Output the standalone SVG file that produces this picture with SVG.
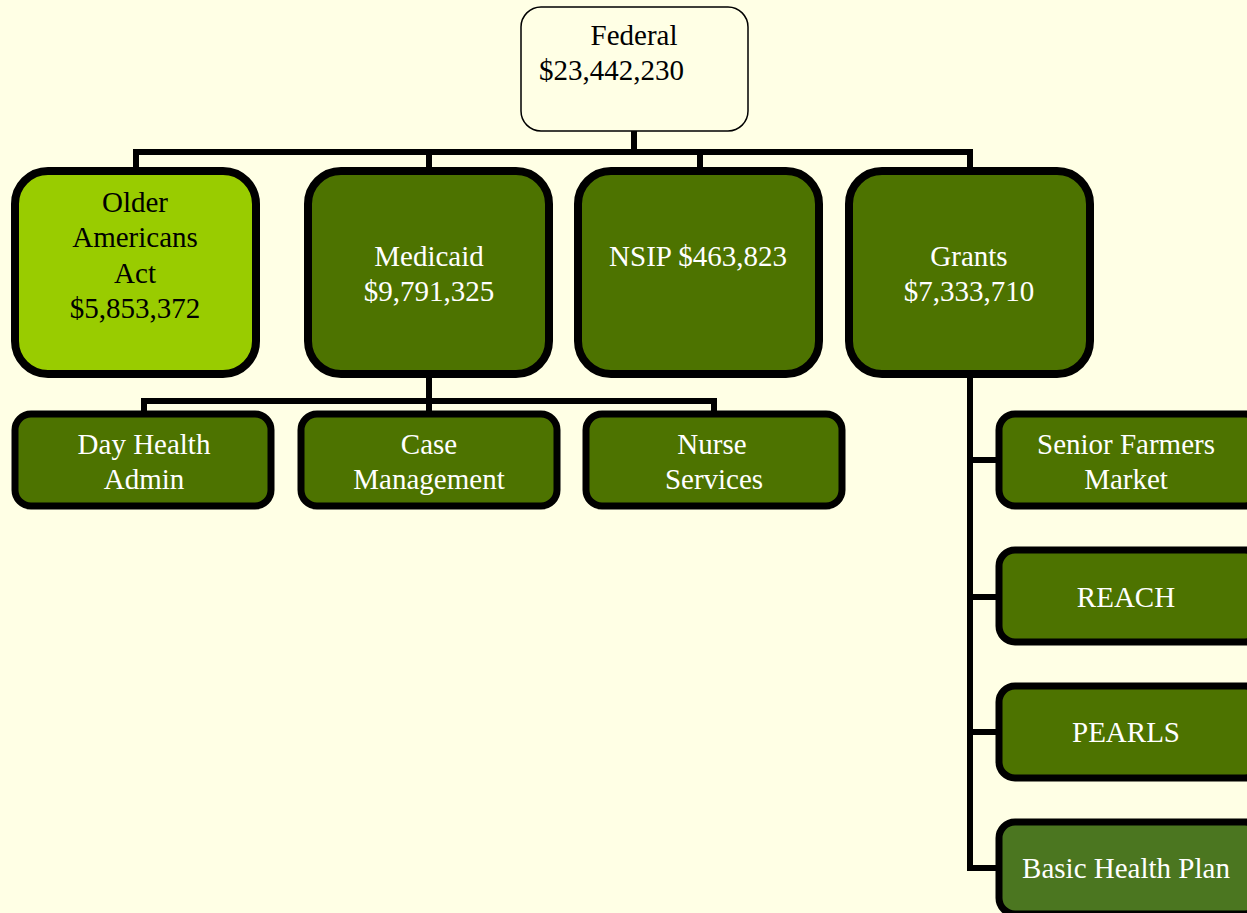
<svg xmlns="http://www.w3.org/2000/svg" width="1247" height="913" viewBox="0 0 1247 913">
<style>
text{font-family:"Liberation Serif","Times New Roman",serif;font-size:29px;text-anchor:middle}
.w{fill:#ffffff}
.k{fill:#000000}
.big{stroke:#000;stroke-width:8}
.small{stroke:#000;stroke-width:7}
.dk{fill:#4d7300}
.conn{fill:none;stroke:#000;stroke-width:6;stroke-linejoin:miter}
</style>
<rect x="0" y="0" width="1247" height="913" fill="#ffffe5"/>
<g id="connectors">
<path class="conn" d="M634 131V152M136 168V152H970V168M429 152V168M700 152V168"/>
<path class="conn" d="M429 377V401M144 412V401H714V412M429 401V412"/>
<path class="conn" d="M970 377V868H997M970 460H997M970 597H997M970 732H997"/>
</g>
<g id="federal">
<rect x="521" y="7" width="227" height="124" rx="20" fill="#ffffe5" stroke="#000" stroke-width="1.5"/>
<text class="k" x="634" y="45">Federal</text>
<text class="k" x="539" y="80" style="text-anchor:start">$23,442,230</text>
</g>
<g id="older">
<rect class="big" x="15" y="171" width="241" height="203" rx="33" fill="#99cc00"/>
<text class="k" x="135" y="212">Older</text>
<text class="k" x="135" y="247">Americans</text>
<text class="k" x="135" y="283">Act</text>
<text class="k" x="135" y="318">$5,853,372</text>
</g>
<g id="medicaid">
<rect class="big dk" x="308" y="171" width="241" height="203" rx="33"/>
<text class="w" x="429" y="266">Medicaid</text>
<text class="w" x="429" y="301">$9,791,325</text>
</g>
<g id="nsip">
<rect class="big dk" x="578" y="171" width="241" height="203" rx="33"/>
<text class="w" x="698" y="266">NSIP $463,823</text>
</g>
<g id="grants">
<rect class="big dk" x="849" y="171" width="241" height="203" rx="33"/>
<text class="w" x="969" y="266">Grants</text>
<text class="w" x="969" y="301">$7,333,710</text>
</g>
<g id="dayhealth">
<rect class="small dk" x="15" y="414" width="256" height="92" rx="16"/>
<text class="w" x="144" y="454">Day Health</text>
<text class="w" x="144" y="489">Admin</text>
</g>
<g id="casemgmt">
<rect class="small dk" x="301" y="414" width="256" height="92" rx="16"/>
<text class="w" x="429" y="454">Case</text>
<text class="w" x="429" y="489">Management</text>
</g>
<g id="nurse">
<rect class="small dk" x="586" y="414" width="256" height="92" rx="16"/>
<text class="w" x="712" y="454">Nurse</text>
<text class="w" x="714" y="489">Services</text>
</g>
<g id="seniorfarmers">
<rect class="small dk" x="999" y="414" width="262" height="92" rx="16"/>
<text class="w" x="1126" y="454">Senior Farmers</text>
<text class="w" x="1126" y="489">Market</text>
</g>
<g id="reach">
<rect class="small dk" x="999" y="550" width="262" height="92" rx="16"/>
<text class="w" x="1126" y="607">REACH</text>
</g>
<g id="pearls">
<rect class="small dk" x="999" y="686" width="262" height="92" rx="16"/>
<text class="w" x="1126" y="742">PEARLS</text>
</g>
<g id="basichealth">
<rect class="small" x="999" y="822" width="262" height="92" rx="16" fill="#4b7620"/>
<text class="w" x="1126" y="878">Basic Health Plan</text>
</g>
</svg>
